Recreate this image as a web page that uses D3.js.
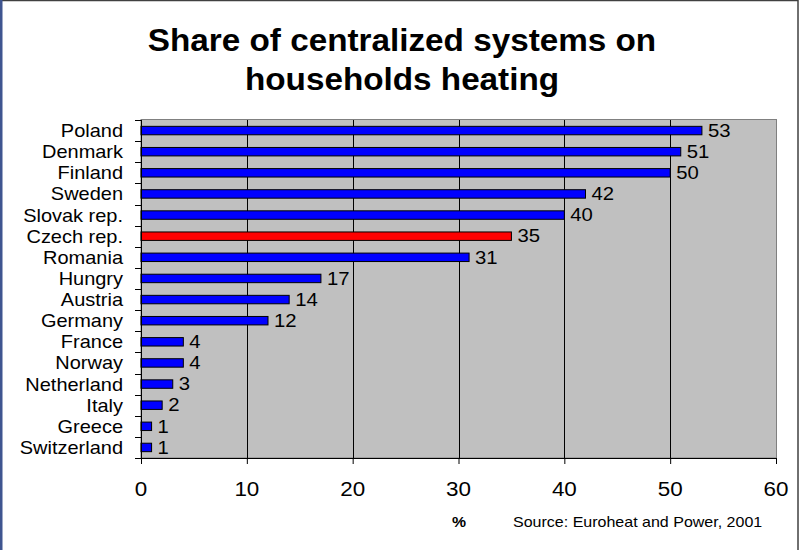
<!DOCTYPE html>
<html>
<head>
<meta charset="utf-8">
<script src="https://cdn.jsdelivr.net/npm/d3@7"></script>
<style>
  html, body { margin: 0; padding: 0; background: #fff; }
  svg { display: block; font-family: "Liberation Sans", Arial, sans-serif; }
</style>
</head>
<body>
<svg id="chart" width="804" height="550"></svg>
<script>
// Share of district (centralized) heating in household heating, by country
const countries = ["Poland", "Denmark", "Finland", "Sweden", "Slovak rep.", "Czech rep.",
  "Romania", "Hungry", "Austria", "Germany", "France", "Norway", "Netherland",
  "Italy", "Greece", "Switzerland"];
const shares = [53, 51, 50, 42, 40, 35, 31, 17, 14, 12, 4, 4, 3, 2, 1, 1];
const highlighted = ["Czech rep."];
const xTicks = [0, 10, 20, 30, 40, 50, 60];
const titleLines = ["Share of centralized systems on", "households heating"];
const unitLabel = "%";
const sourceLabel = "Source: Euroheat and Power, 2001";

const svg = d3.select("#chart");
const W = 804, H = 550;
const plot = { left: 141, right: 776, top: 120, bottom: 458 };

// text is drawn slightly wide, as in the original export
function wideText(sel, x, y, sx) {
  sel.attr("transform", (d, i) => `translate(${typeof x === "function" ? x(d, i) : x},${typeof y === "function" ? y(d, i) : y}) scale(${sx},1)`)
    .attr("x", 0).attr("y", 0);
}

// outer frame
svg.append("rect").attr("x", 0.5).attr("y", 0.5).attr("width", 797.5).attr("height", 560)
  .attr("fill", "#fff").attr("stroke", "#404040").attr("stroke-width", 1.5);
svg.append("line").attr("x1", 1.25).attr("x2", 1.25).attr("y1", 0).attr("y2", H)
  .attr("stroke", "#3f5590").attr("stroke-width", 2.5);

const x = d3.scaleLinear().domain([0, 60]).range([plot.left, plot.right]);
const y = d3.scaleBand().domain(countries).range([plot.top, plot.bottom]).paddingInner(0.6).paddingOuter(0.3);
const yb = d3.scaleBand().domain(countries).range([plot.top, plot.bottom]);

// plot background
svg.append("rect").attr("x", plot.left).attr("y", plot.top - 0.5)
  .attr("width", plot.right - plot.left + 0.5).attr("height", plot.bottom - plot.top + 0.5)
  .attr("fill", "#c0c0c0").attr("stroke", "#808080").attr("stroke-width", 1);

// vertical gridlines
svg.append("g").selectAll("line").data(xTicks.filter(d => d > 0 && d < 60)).join("line")
  .attr("x1", d => Math.round(x(d)) + 0.5).attr("x2", d => Math.round(x(d)) + 0.5)
  .attr("y1", plot.top).attr("y2", plot.bottom)
  .attr("stroke", "#000").attr("stroke-width", 1);

// bars
svg.append("g").selectAll("rect").data(countries).join("rect")
  .attr("x", x(0)).attr("y", d => y(d))
  .attr("width", (d, i) => x(shares[i]) - x(0)).attr("height", y.bandwidth())
  .attr("fill", d => highlighted.includes(d) ? "#ff0000" : "#0000ff")
  .attr("stroke", "#000").attr("stroke-width", 1);

// value labels
svg.append("g").selectAll("text").data(countries).join("text")
  .attr("dy", "0.36em").attr("font-size", 17.5).attr("fill", "#000")
  .text((d, i) => shares[i])
  .call(wideText, (d, i) => x(shares[i]) + 6, d => y(d) + y.bandwidth() / 2, 1.16);

// y axis: category labels
svg.append("g").selectAll("text").data(countries).join("text")
  .attr("text-anchor", "end").attr("dy", "0.36em").attr("font-size", 18).attr("fill", "#000")
  .text(d => d)
  .call(wideText, plot.left - 18, d => yb(d) + yb.bandwidth() / 2, 1.11);
// category separator ticks
svg.append("g").selectAll("line").data(d3.range(countries.length + 1)).join("line")
  .attr("x1", plot.left - 6).attr("x2", plot.left)
  .attr("y1", i => Math.round(plot.top + i * yb.step()) + 0.5)
  .attr("y2", i => Math.round(plot.top + i * yb.step()) + 0.5)
  .attr("stroke", "#000");
svg.append("line").attr("x1", plot.left + 0.5).attr("x2", plot.left + 0.5)
  .attr("y1", plot.top).attr("y2", plot.bottom).attr("stroke", "#000");

// x axis
const xAxis = svg.append("g").attr("transform", `translate(0,${plot.bottom})`)
  .call(d3.axisBottom(x).tickValues(xTicks).tickSize(6).tickFormat(() => ""));
xAxis.select(".domain").attr("stroke", "#000");
xAxis.selectAll("line").attr("stroke", "#000");
svg.append("g").selectAll("text").data(xTicks).join("text")
  .attr("text-anchor", "middle").attr("dy", "0.36em").attr("font-size", 19.5).attr("fill", "#000")
  .text(d => d)
  .call(wideText, d => x(d), 489, 1.15);

// title
svg.append("g").selectAll("text").data(titleLines).join("text")
  .attr("text-anchor", "middle").attr("font-size", 32).attr("font-weight", "bold")
  .attr("fill", "#000").text(d => d)
  .call(wideText, 402, (d, i) => 51 + i * 39, 1.04);

// unit and source
svg.append("text").attr("text-anchor", "middle")
  .attr("font-size", 14).attr("font-weight", "bold").text(unitLabel)
  .call(wideText, 459, 527, 1.13);
svg.append("text")
  .attr("font-size", 14).text(sourceLabel)
  .call(wideText, 513, 527, 1.145);
</script>
</body>
</html>
